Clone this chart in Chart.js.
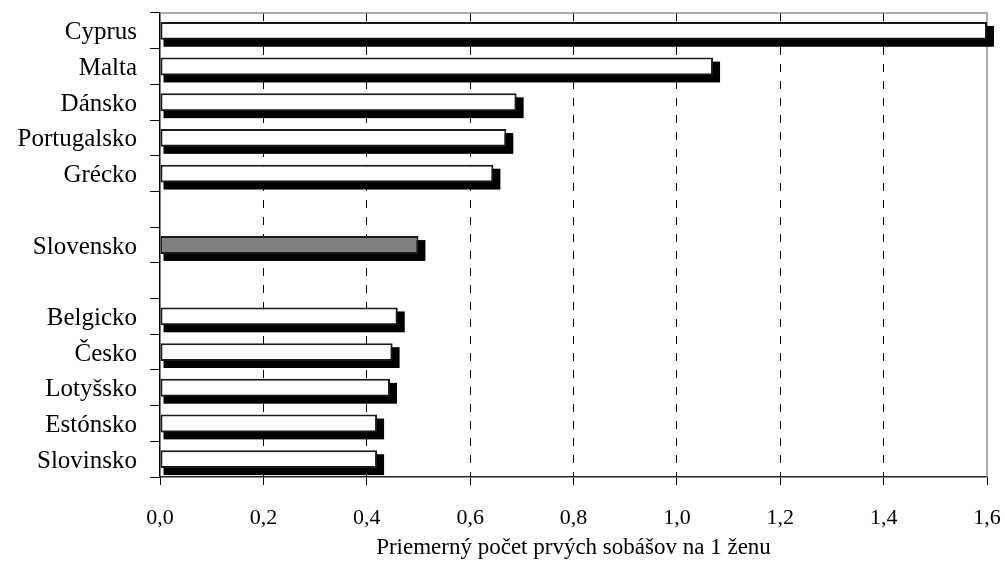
<!DOCTYPE html>
<html>
<head>
<meta charset="utf-8">
<script src="https://cdn.jsdelivr.net/npm/chart.js@4.4.0/dist/chart.umd.min.js"></script>
<style>
  body { margin: 0; background: #fff; }
  #wrap { width: 1005px; height: 567px; }
</style>
</head>
<body>
<div id="wrap"><canvas id="graf" width="1005" height="567"></canvas></div>
<script>
// krajiny (prazdne riadky su medzery v grafe)
const krajiny = ['Cyprus', 'Malta', 'Dánsko', 'Portugalsko', 'Grécko', ' ', 'Slovensko', '  ',
  'Belgicko', 'Česko', 'Lotyšsko', 'Estónsko', 'Slovinsko'];
// priemerny pocet prvych sobasov na 1 zenu
const hodnoty = [1.60, 1.07, 0.69, 0.67, 0.645, null, 0.50, null, 0.46, 0.45, 0.445, 0.42, 0.42];
const osX = [0, 0.2, 0.4, 0.6, 0.8, 1.0, 1.2, 1.4, 1.6];

const farby = krajiny.map(k => k === 'Slovensko' ? '#808080' : '#ffffff');
const rodina = '"Liberation Serif", "Times New Roman", serif';

// ramcek hore a vpravo (sivy)
const ramcek = {
  id: 'ramcek',
  beforeDatasetsDraw(chart) {
    const { ctx, chartArea: a } = chart;
    ctx.save();
    ctx.strokeStyle = '#909090';
    ctx.lineWidth = 1.5;
    ctx.beginPath();
    ctx.moveTo(a.left, a.top);
    ctx.lineTo(a.right, a.top);
    ctx.lineTo(a.right, a.bottom);
    ctx.stroke();
    ctx.restore();
  }
};

// tien pod stlpcami
const tien = {
  id: 'tien',
  beforeDatasetsDraw(chart) {
    const ctx = chart.ctx;
    const meta = chart.getDatasetMeta(0);
    ctx.save();
    ctx.fillStyle = '#000';
    meta.data.forEach((el, i) => {
      if (hodnoty[i] == null) return;
      const h = el.height;
      ctx.fillRect(el.base + 3, el.y - h / 2 + 4, el.x - el.base + 4, h + 3);
    });
    ctx.restore();
  }
};

new Chart(document.getElementById('graf'), {
  type: 'bar',
  data: {
    labels: krajiny,
    datasets: [{
      data: hodnoty,
      backgroundColor: farby,
      borderColor: '#1a1a1a',
      borderWidth: 2,
      borderSkipped: false,
      barPercentage: 0.5,
      categoryPercentage: 1
    }]
  },
  options: {
    indexAxis: 'y',
    responsive: false,
    animation: false,
    layout: { padding: { top: 13, right: 18, left: 0, bottom: 0 } },
    plugins: { legend: { display: false }, tooltip: { enabled: false } },
    scales: {
      x: {
        min: 0,
        max: 1.6,
        afterFit(s) { s.height = 90; s.paddingLeft = 0; s.paddingRight = 0; },
        afterBuildTicks(s) { s.ticks = osX.map(v => ({ value: v })); },
        ticks: {
          color: '#000',
          font: { family: rodina, size: 22 },
          padding: 20,
          maxRotation: 0,
          callback: v => v.toFixed(1).replace('.', ',')
        },
        grid: {
          color: c => (c.tick && (c.tick.value === 0 || c.tick.value === 1.6)) ? 'rgba(0,0,0,0)' : '#000',
          lineWidth: 1,
          tickLength: 8,
          tickColor: '#000',
          tickBorderDash: []
        },
        border: { color: '#222', width: 1.5, dash: [8, 9] },
        title: {
          display: true,
          text: 'Priemerný počet prvých sobášov na 1 ženu',
          color: '#000',
          font: { family: rodina, size: 23 },
          padding: { top: 0, bottom: 5 }
        }
      },
      y: {
        afterFit(s) { s.width = 160; s.paddingTop = 0; s.paddingBottom = 0; },
        ticks: { color: '#000', font: { family: rodina, size: 25 }, padding: 13, labelOffset: 2 },
        grid: {
          offset: true,
          drawOnChartArea: false,
          tickLength: 10,
          tickColor: '#000',
          lineWidth: 1
        },
        border: { color: '#000', width: 1.5 }
      }
    }
  },
  plugins: [ramcek, tien]
});
</script>
</body>
</html>
